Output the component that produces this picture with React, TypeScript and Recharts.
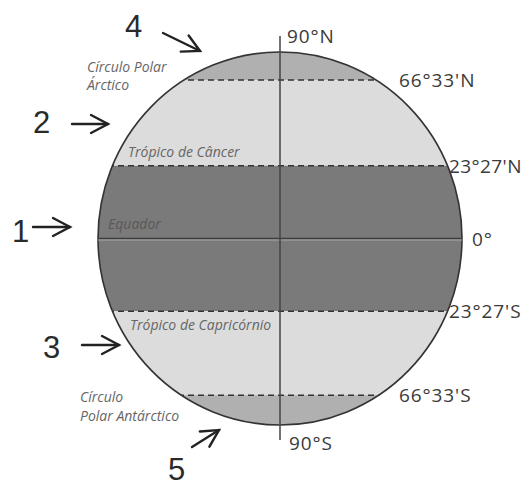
import React from 'react';
import { ComposedChart, XAxis, YAxis, ReferenceArea, ReferenceLine } from 'recharts';

// zones of the globe, top to bottom (vertical position on the disc, -1..1)
const zoneNames = ['Zona polar norte', 'Zona temperada norte', 'Zona intertropical', 'Zona temperada sul', 'Zona polar sul'];
const zoneTop = [1, 0.85, 0.39, -0.39, -0.84];
const zoneBottom = [0.85, 0.39, -0.39, -0.84, -1];
const zoneNumbers = ['4', '2', '1', '3', '5'];

// parallels
const parallelLabels = ["66°33'N", "23°27'N", '0°', "23°27'S", "66°33'S"];
const parallelY = [0.85, 0.39, 0, -0.39, -0.84];
const parallelNames = ['Círculo Polar Árctico', 'Trópico de Câncer', 'Equador', 'Trópico de Capricórnio', 'Círculo Polar Antárctico'];

// polar axis
const poleLabels = ['90°N', '90°S'];
const axisEnds = [1.086, -1.08];

const W = 526;
const H = 486;
const zoneFill = ['#b0b0b0', '#dcdcdc', '#7a7a7a', '#dcdcdc', '#b0b0b0'];
const degFont = { fontFamily: "'Open Sans', sans-serif", fontSize: 19, fill: '#3a3a3a', letterSpacing: 0.9 };
const itFont = { fontFamily: "'Open Sans', sans-serif", fontSize: 14, fontStyle: 'italic' as const };
const numFont = { fontFamily: "'Liberation Sans', sans-serif", fontSize: 31, fill: '#2a2a2a' };
const labelDx = [-63, -13, 10, -13, -63];
const labelSpacing = [0.9, 0.4, 0.9, 0.9, 0.9];

// annotation placement (pixels) for the zone numbers and their arrows
const numPos = [[125, 37], [33, 133], [12, 242], [43, 358], [168, 480]];
const arrows = [
  { tail: [163, 33], tip: [200, 51] },
  { tail: [72, 124], tip: [108, 124] },
  { tail: [33, 227], tip: [70, 227] },
  { tail: [82, 345], tip: [119, 345] },
  { tail: [192, 447], tip: [219, 430] },
];
const namePos: [number, number][][] = [
  [[87, 72], [87, 90]],
  [[128, 157]],
  [[108, 229]],
  [[130, 330]],
  [[80, 402], [80, 421]],
];
const nameLines = [['Círculo Polar', 'Árctico'], [parallelNames[1]], [parallelNames[2]], [parallelNames[3]], ['Círculo', 'Polar Antárctico']];

function Arrow({ tail, tip }: { tail: number[]; tip: number[] }) {
  const dx = tip[0] - tail[0];
  const dy = tip[1] - tail[1];
  const len = Math.hypot(dx, dy);
  const ux = dx / len, uy = dy / len;
  const hl = 17, hw = 9;
  const bx = tip[0] - ux * hl, by = tip[1] - uy * hl;
  const w1 = [bx - uy * hw, by + ux * hw];
  const w2 = [bx + uy * hw, by - ux * hw];
  return (
    <g stroke="#222" strokeWidth={2.4} fill="none" strokeLinecap="round">
      <line x1={tail[0]} y1={tail[1]} x2={tip[0]} y2={tip[1]} />
      <polyline points={`${w1[0]},${w1[1]} ${tip[0]},${tip[1]} ${w2[0]},${w2[1]}`} />
    </g>
  );
}

export default function App() {
  return (
    <div style={{ position: 'absolute', left: 0, top: 0, width: W, height: H, background: '#fff' }}>
      <ComposedChart width={W} height={H} margin={{ top: 52, right: 64, bottom: 61, left: 98 }}>
        <XAxis type="number" dataKey="x" domain={[-1, 1]} allowDataOverflow hide />
        <YAxis type="number" dataKey="y" domain={[-1, 1]} allowDataOverflow hide />
        {zoneNames.map((n, i) => (
          <ReferenceArea
            key={n}
            x1={-1}
            x2={1}
            y1={zoneBottom[i]}
            y2={zoneTop[i]}
            shape={(p: any) => (
              <rect x={p.x} y={p.y} width={p.width} height={p.height} fill={zoneFill[i]} clipPath="url(#globeClip)" />
            )}
          />
        ))}
        <ReferenceArea
          x1={-1}
          x2={1}
          y1={-1}
          y2={1}
          shape={(p: any) => {
            const cx = p.x + p.width / 2;
            const cy = p.y + p.height / 2;
            return (
              <g>
                <defs>
                  <clipPath id="globeClip">
                    <ellipse cx={cx} cy={cy} rx={p.width / 2} ry={p.height / 2} />
                  </clipPath>
                </defs>
                <ellipse cx={cx} cy={cy} rx={p.width / 2} ry={p.height / 2} fill="none" stroke="#333" strokeWidth={1.6} />
              </g>
            );
          }}
        />
        {parallelLabels.map((lab, i) => (
          <ReferenceLine
            key={lab}
            segment={[{ x: -1, y: parallelY[i] }, { x: 1, y: parallelY[i] }]}
            shape={(p: any) => (
              <g>
                {parallelY[i] === 0 ? (
                  <g clipPath="url(#globeClip)">
                    <line x1={p.x1} y1={p.y1} x2={p.x2} y2={p.y2} stroke="#3c3c3c" strokeWidth={1.4} />
                    <line x1={p.x1} y1={p.y1 + 1.5} x2={p.x2} y2={p.y2 + 1.5} stroke="#a8a8a8" strokeWidth={1} />
                  </g>
                ) : (
                  <line x1={p.x1} y1={p.y1} x2={p.x2} y2={p.y2} stroke="#333" strokeWidth={1.5} strokeDasharray="6 4" clipPath="url(#globeClip)" />
                )}
                <text x={p.x2 + labelDx[i]} y={p.y2 + 7} {...degFont} letterSpacing={labelSpacing[i]}>{lab}</text>
              </g>
            )}
          />
        ))}
        <ReferenceLine
          segment={[{ x: 0, y: axisEnds[0] }, { x: 0, y: axisEnds[1] }]}
          ifOverflow="visible"
          shape={(p: any) => (
            <g>
              <line x1={p.x1} y1={p.y1} x2={p.x2} y2={p.y2} stroke="#444" strokeWidth={1.5} />
              <text x={p.x1 + 7} y={p.y1 + 7} {...degFont}>{poleLabels[0]}</text>
              <text x={p.x2 + 9} y={p.y2 + 10} {...degFont}>{poleLabels[1]}</text>
            </g>
          )}
        />
      </ComposedChart>
      <svg width={W} height={H} style={{ position: 'absolute', left: 0, top: 0, pointerEvents: 'none' }}>
        {zoneNumbers.map((z, i) => (
          <g key={z}>
            <text x={numPos[i][0]} y={numPos[i][1]} {...numFont}>{z}</text>
            <Arrow tail={arrows[i].tail} tip={arrows[i].tip} />
          </g>
        ))}
        {nameLines.map((lines, i) =>
          lines.map((t, j) => (
            <text key={`${i}-${j}`} x={namePos[i][j][0]} y={namePos[i][j][1]} {...itFont} fill={i === 2 ? '#585858' : '#666'}>
              {t}
            </text>
          ))
        )}
      </svg>
    </div>
  );
}
